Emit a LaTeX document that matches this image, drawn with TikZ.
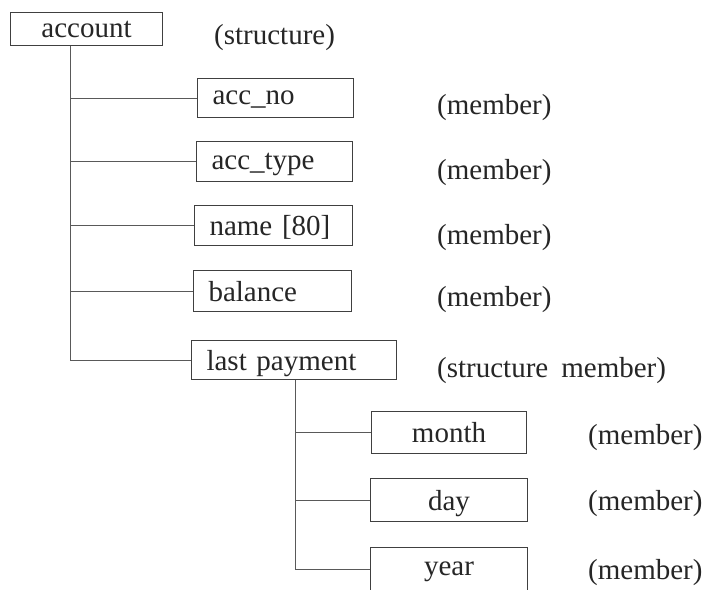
\documentclass[tikz,border=0pt]{standalone}
\usepackage{fontspec}
\setmainfont{Liberation Serif}
\usetikzlibrary{calc}
\begin{document}
\begin{tikzpicture}[x=1pt,y=-1pt,
  every node/.style={text=black!85, font=\fontsize{29}{32}\selectfont},
  lbox/.style={draw=black!75, line width=1.1pt, anchor=north west, inner xsep=15pt, inner ysep=0pt, align=left, text depth=0pt},
  cbox/.style={draw=black!75, line width=1.1pt, anchor=north west, inner xsep=4pt, inner ysep=0pt, align=center, text depth=0pt},
  lbl/.style={anchor=west, inner sep=0pt},
  conn/.style={draw=black!65, line width=1pt}]
\useasboundingbox (0,0) rectangle (712,589);
\clip (0,0) rectangle (712,589);
\fill[white] (0,0) rectangle (712,589);
% boxes
\node[cbox, text width=144pt, minimum height=33pt] (account) at (10,12) {account};
\node[lbox, text width=126pt, minimum height=39pt] (accno) at (197,78) {acc\_no};
\node[lbox, text width=126pt, minimum height=40pt] (acctype) at (196,141) {acc\_type};
\node[lbox, text width=128pt, minimum height=40pt] (name) at (194,205) {name [80]};
\node[lbox, text width=128pt, minimum height=41pt] (balance) at (193,270) {balance};
\node[lbox, text width=175pt, minimum height=39pt] (last) at (191,340) {last payment};
\node[cbox, text width=147pt, minimum height=42pt] (month) at (371,411) {month};
\node[cbox, text width=149pt, minimum height=43pt] (day) at (370,478) {day};
\node[cbox, text width=149pt, minimum height=43pt] (year) at (370,547) {year};
% labels
\node[lbl] (l0) at (214,38) {(structure)};
\node[lbl] (l1) at (437,108) {(member)};
\node[lbl] (l2) at (437,173) {(member)};
\node[lbl] (l3) at (437,238) {(member)};
\node[lbl] (l4) at (437,300) {(member)};
\node[lbl] (l5) at (437,371) {(structure\hspace{0.45em}member)};
\node[lbl] (l6) at (588,438) {(member)};
\node[lbl] (l7) at (588,504) {(member)};
\node[lbl] (l8) at (588,573) {(member)};
% connectors
\coordinate (t0) at ($(account.south west)+(60,0)$);
\coordinate (s0) at ($(last.south west)+(104,0)$);
\draw[conn] (t0) |- (last.west);
\foreach \b in {accno,acctype,name,balance}{\draw[conn] (\b.west -| t0) -- (\b.west);}
\draw[conn] (s0) |- (year.west);
\foreach \b in {month,day}{\draw[conn] (\b.west -| s0) -- (\b.west);}
\end{tikzpicture}
\end{document}
